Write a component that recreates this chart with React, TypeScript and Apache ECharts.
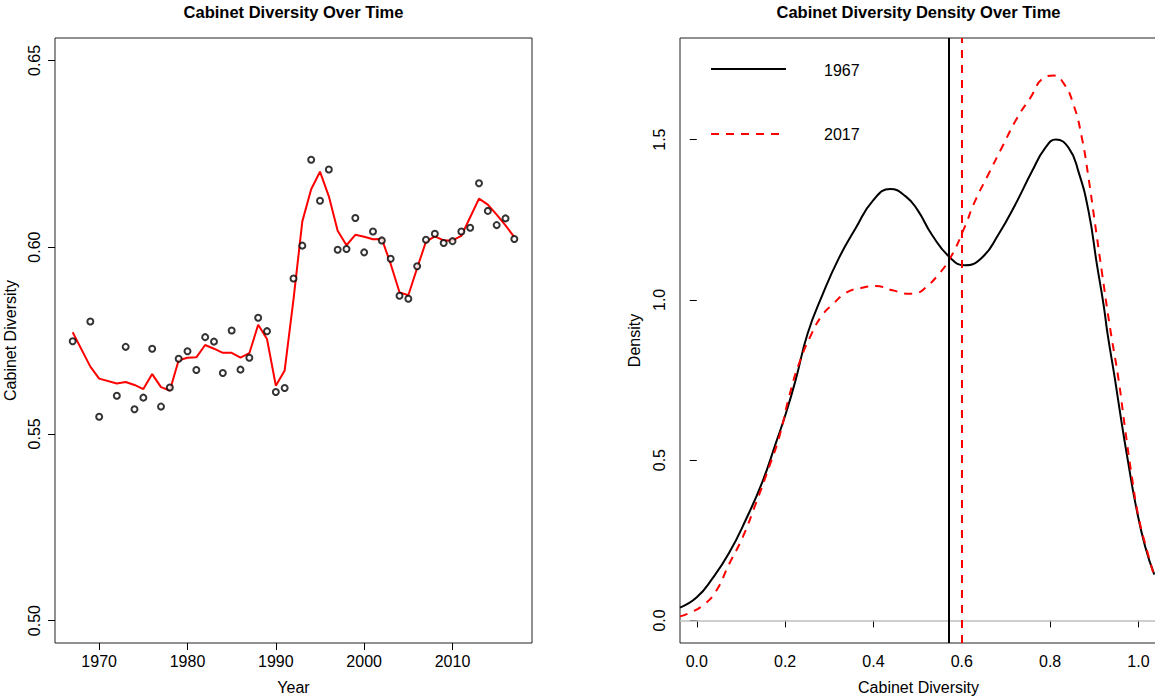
import React, { useEffect, useRef } from "react";
import * as echarts from "echarts";

// ---------- Data ----------
const years = [
  1967, 1969, 1970, 1972, 1973, 1974, 1975, 1976, 1977, 1978, 1979, 1980, 1981,
  1982, 1983, 1984, 1985, 1986, 1987, 1988, 1989, 1990, 1991, 1992, 1993, 1994,
  1995, 1996, 1997, 1998, 1999, 2000, 2001, 2002, 2003, 2004, 2005, 2006, 2007,
  2008, 2009, 2010, 2011, 2012, 2013, 2014, 2015, 2016, 2017,
];
const diversity = [
  0.5748, 0.5801, 0.5546, 0.5602, 0.5733, 0.5566, 0.5597, 0.5728, 0.5573, 0.5624,
  0.5701, 0.5721, 0.5671, 0.5759, 0.5747, 0.5663, 0.5777, 0.5672, 0.5704, 0.5811,
  0.5775, 0.5612, 0.5623, 0.5916, 0.6004, 0.6234, 0.6124, 0.6208, 0.5993, 0.5995,
  0.6078, 0.5986, 0.6042, 0.6018, 0.5969, 0.587, 0.5862, 0.5949, 0.602, 0.6036,
  0.6011, 0.6016, 0.6042, 0.6052, 0.6171, 0.6097, 0.6059, 0.6077, 0.6022,
];
const smoothed = [
  0.5772, 0.568, 0.5648, 0.5635, 0.5639, 0.5631, 0.562, 0.566, 0.5625, 0.5616,
  0.5697, 0.5704, 0.5705, 0.5738, 0.5728, 0.5717, 0.5717, 0.5704, 0.5716, 0.5792,
  0.5754, 0.5629, 0.567, 0.586, 0.6069, 0.6155, 0.6202, 0.6136, 0.6044, 0.6005,
  0.6033, 0.6028, 0.6021, 0.6022, 0.5955, 0.5879, 0.5871, 0.5944, 0.6015, 0.6029,
  0.6018, 0.6018, 0.603, 0.608, 0.613, 0.6114, 0.6087, 0.6058, 0.6027,
];
const yearTicks = [1970, 1980, 1990, 2000, 2010];
const diversityTicks = [0.5, 0.55, 0.6, 0.65];

const density1967X = [
  -0.038, 0.0, 0.036, 0.073, 0.111, 0.149, 0.179, 0.202, 0.224, 0.251, 0.285,
  0.322, 0.36, 0.398, 0.438, 0.473, 0.5, 0.532, 0.574, 0.606, 0.645, 0.683, 0.721,
  0.759, 0.789, 0.813, 0.842, 0.864, 0.887, 0.906, 0.921, 0.93, 0.947, 0.962,
  0.977, 0.993, 1.015, 1.036,
];
const density1967Y = [
  0.04, 0.072, 0.132, 0.21, 0.314, 0.434, 0.553, 0.647, 0.751, 0.895, 1.017,
  1.131, 1.224, 1.308, 1.346, 1.323, 1.28, 1.204, 1.131, 1.108, 1.131, 1.204,
  1.297, 1.401, 1.474, 1.5, 1.474, 1.401, 1.277, 1.11, 0.985, 0.895, 0.751, 0.616,
  0.491, 0.366, 0.231, 0.143,
];
const density2017X = [
  -0.038, -0.017, 0.013, 0.043, 0.073, 0.104, 0.134, 0.164, 0.187, 0.209, 0.232,
  0.262, 0.285, 0.307, 0.338, 0.372, 0.405, 0.443, 0.481, 0.5, 0.517, 0.544,
  0.574, 0.604, 0.63, 0.66, 0.694, 0.725, 0.755, 0.785, 0.808, 0.83, 0.853, 0.872,
  0.887, 0.902, 0.917, 0.936, 0.955, 0.97, 0.985, 1.0, 1.019, 1.036,
];
const density2017Y = [
  0.0125, 0.023, 0.046, 0.09, 0.175, 0.26, 0.366, 0.48, 0.574, 0.698, 0.803, 0.9,
  0.954, 0.985, 1.022, 1.037, 1.043, 1.03, 1.019, 1.022, 1.037, 1.074, 1.131,
  1.219, 1.308, 1.391, 1.484, 1.567, 1.63, 1.692, 1.7, 1.677, 1.609, 1.505, 1.38,
  1.235, 1.089, 0.91, 0.751, 0.595, 0.449, 0.324, 0.22, 0.137,
];
const densityTicksX = [0, 0.2, 0.4, 0.6, 0.8, 1.0];
const densityTicksY = [0, 0.5, 1.0, 1.5];
const mean1967 = 0.5748;
const mean2017 = 0.6022;
const legendLabels = ["1967", "2017"];

const FONT = '"Liberation Sans", Arial, Helvetica, sans-serif';

export default function App() {
  const ref = useRef<HTMLDivElement>(null);

  useEffect(() => {
    if (!ref.current) return;
    const chart = echarts.init(ref.current, undefined, { renderer: "svg" });

    const tickLabel = {
      fontSize: 16,
      color: "#000",
      fontFamily: FONT,
    };
    const nameStyle = { fontSize: 16, color: "#000", fontFamily: FONT };
    const tickStyle = { lineStyle: { color: "#000", width: 1 }, length: 7 };

    const option: any = {
      animation: false,
      backgroundColor: "#fff",
      grid: [
        {
          left: 55, top: 38, right: 628, bottom: 57,
          show: true, borderColor: "#222", borderWidth: 1, backgroundColor: "transparent",
        },
        {
          left: 680, top: 38, right: 3, bottom: 57,
          show: true, borderColor: "#222", borderWidth: 1, backgroundColor: "transparent",
        },
      ],
      xAxis: [
        {
          gridIndex: 0, type: "value", min: 1965, max: 2019,
          splitLine: { show: false }, axisLine: { show: false },
          axisTick: { show: true, customValues: yearTicks, ...tickStyle },
          axisLabel: {
            customValues: yearTicks, margin: 10, ...tickLabel,
            formatter: (v: number) => String(v),
          },
          name: "Year", nameLocation: "middle", nameGap: 36, nameTextStyle: nameStyle,
        },
        {
          gridIndex: 1, type: "value", min: -0.038, max: 1.042,
          splitLine: { show: false }, axisLine: { show: false },
          axisTick: { show: true, customValues: densityTicksX, ...tickStyle },
          axisLabel: {
            customValues: densityTicksX, margin: 10, ...tickLabel,
            formatter: (v: number) => v.toFixed(1),
          },
          name: "Cabinet Diversity", nameLocation: "middle", nameGap: 36, nameTextStyle: nameStyle,
        },
      ],
      yAxis: [
        {
          gridIndex: 0, type: "value", min: 0.494, max: 0.656,
          splitLine: { show: false }, axisLine: { show: false },
          axisTick: { show: true, customValues: diversityTicks, ...tickStyle },
          axisLabel: {
            customValues: diversityTicks, rotate: 90, margin: 13, ...tickLabel,
            formatter: (v: number) => v.toFixed(2),
          },
          name: "Cabinet Diversity", nameLocation: "middle", nameGap: 37, nameTextStyle: nameStyle,
        },
        {
          gridIndex: 1, type: "value", min: -0.0705, max: 1.817,
          splitLine: { show: false }, axisLine: { show: false },
          axisTick: { show: true, customValues: densityTicksY, ...tickStyle },
          axisLabel: {
            customValues: densityTicksY, rotate: 90, margin: 13, ...tickLabel,
            formatter: (v: number) => v.toFixed(1),
          },
          name: "Density", nameLocation: "middle", nameGap: 38, nameTextStyle: nameStyle,
        },
      ],
      series: [
        {
          type: "line", xAxisIndex: 0, yAxisIndex: 0,
          data: years.map((y, i) => [y, smoothed[i]]),
          symbol: "none", lineStyle: { color: "#ff0000", width: 2 }, z: 2,
        },
        {
          type: "scatter", xAxisIndex: 0, yAxisIndex: 0,
          data: years.map((y, i) => [y, diversity[i]]),
          symbol: "circle", symbolSize: 6,
          itemStyle: { color: "#fff", borderColor: "#000", borderWidth: 2 }, z: 3,
        },
        {
          type: "line", xAxisIndex: 1, yAxisIndex: 1,
          data: density1967X.map((x, i) => [x, density1967Y[i]]),
          symbol: "none", smooth: 0.5,
          lineStyle: { color: "#000", width: 2 },
          markLine: {
            silent: true, symbol: ["none", "none"], label: { show: false },
            data: [
              { yAxis: 0, lineStyle: { color: "#bebebe", width: 1.5, type: "solid" } },
              { xAxis: mean1967, lineStyle: { color: "#000", width: 2, type: "solid" } },
              { xAxis: mean2017, lineStyle: { color: "#ff0000", width: 2, type: [8, 7] } },
            ],
          },
        },
        {
          type: "line", xAxisIndex: 1, yAxisIndex: 1,
          data: density2017X.map((x, i) => [x, density2017Y[i]]),
          symbol: "none", smooth: 0.5,
          lineStyle: { color: "#ff0000", width: 2, type: [8, 7] },
        },
      ],
      graphic: [
        {
          type: "text", x: 293.5, y: 12,
          style: {
            text: "Cabinet Diversity Over Time", align: "center", verticalAlign: "middle",
            fontSize: 16.5, fontWeight: "bold", fontFamily: FONT, fill: "#000",
          },
        },
        {
          type: "text", x: 918.5, y: 12,
          style: {
            text: "Cabinet Diversity Density Over Time", align: "center", verticalAlign: "middle",
            fontSize: 16.5, fontWeight: "bold", fontFamily: FONT, fill: "#000",
          },
        },
        {
          type: "line", shape: { x1: 711, y1: 69, x2: 786, y2: 69 },
          style: { stroke: "#000", lineWidth: 2 },
        },
        {
          type: "text", x: 824, y: 70,
          style: {
            text: legendLabels[0], align: "left", verticalAlign: "middle",
            fontSize: 16, fontFamily: FONT, fill: "#000",
          },
        },
        {
          type: "line", shape: { x1: 711, y1: 134, x2: 786, y2: 134 },
          style: { stroke: "#ff0000", lineWidth: 2, lineDash: [8, 7] },
        },
        {
          type: "text", x: 824, y: 134.5,
          style: {
            text: legendLabels[1], align: "left", verticalAlign: "middle",
            fontSize: 16, fontFamily: FONT, fill: "#000",
          },
        },
      ],
    };

    chart.setOption(option);
    return () => chart.dispose();
  }, []);

  return (
    <div
      style={{
        position: "fixed", left: 0, top: 0, width: 1155, height: 700,
        overflow: "hidden", background: "#fff",
      }}
    >
      <div ref={ref} style={{ width: 1160, height: 700 }} />
    </div>
  );
}
